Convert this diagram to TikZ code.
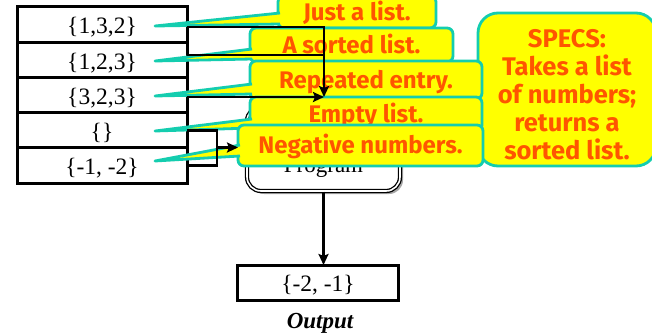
\documentclass[tikz,border=0pt]{standalone}
\usepackage{fontspec}
\setmainfont{Liberation Serif}
\newfontfamily\notefont{Fira Sans}
\usetikzlibrary{arrows.meta,calc,shadows}
\definecolor{noteyellow}{RGB}{255,255,0}
\definecolor{noteteal}{RGB}{20,205,175}
\definecolor{noteorange}{RGB}{255,85,0}
\begin{document}
\begin{tikzpicture}[x=1pt,y=-1pt,
  cell/.style={draw=black, line width=3pt, fill=white, outer sep=0pt, inner sep=0pt,
    minimum width=170pt, minimum height=35.5pt, text height=24pt, text depth=5.2pt,
    font=\fontsize{23.5}{26}\selectfont},
  prog/.style={draw=black, double=white, double distance=1.6pt, line width=1.3pt, fill=white,
    rounded corners=14pt, minimum width=153pt, minimum height=84pt,
    text height=50pt, text depth=4pt, font=\fontsize{23}{26}\selectfont,
    drop shadow={shadow xshift=3pt, shadow yshift=-3pt, fill=black, opacity=0.35}},
  link/.style={draw=black, line width=2.9pt},
  tip/.style={-{Stealth[length=11pt,width=10pt,inset=2pt]}},
  notebox/.style={fill=noteyellow, draw=noteteal, line width=2.8pt, rounded corners=6pt,
    outer sep=0pt, inner sep=0pt, text=noteorange, text height=16.5pt, text depth=0pt,
    font=\notefont\bfseries\fontsize{24}{28}\selectfont},
  tail/.style={fill=noteyellow, draw=noteteal, line width=2.8pt, line join=round},
  spectext/.style={text=noteorange, align=center, inner sep=0pt,
    font=\notefont\bfseries\fontsize{25.5}{28}\selectfont},
]
\useasboundingbox (0,0) rectangle (652,335);

% input lists, one per cell
\node[cell] (r1) at (102,24.5) {\{1,3,2\}};
\node[cell] (r2) at (102,60) {\{1,2,3\}};
\node[cell] (r3) at (102,95.5) {\{3,2,3\}};
\node[cell] (r4) at (102,130.5) {\{\}};
\node[cell] (r5) at (102,165.5) {\{-1, -2\}};

% the program and its output
\node[prog] (prog) at (323.5,149) {Program};
\node[cell, minimum width=161pt, minimum height=35pt] (out) at (318,282.5) {\{-2, -1\}};
\node[font=\bfseries\itshape\fontsize{23}{26}\selectfont] (lbl) at (320,323) {Output};
\draw[link,tip] (prog.south) -- (prog.south |- out.north);

% specification note
\node[notebox, rounded corners=20pt, minimum width=178pt, minimum height=153pt] (specs) at (567,89.5) {};
\node[spectext] (spectxt) at (567,95) {SPECS:\\Takes a list\\of numbers;\\returns a\\sorted list.};

% callouts describing each test case
\coordinate (t1) at (155,26);
\coordinate (t2) at (155,61);
\coordinate (t3) at (155,96);
\coordinate (t4) at (155,131);
\coordinate (t5) at (155,161);

\node[notebox, minimum width=158pt, minimum height=32pt] (c1) at (357,12) {Just a list.};
\path[tail] ($(c1.south west)+(2,-15)$) -- (t1) -- ($(c1.south west)+(2,-4)$);
\node[notebox, minimum width=203pt, minimum height=34pt] (c2) at (351.5,45) {A sorted list.};
\path[tail] ($(c2.south west)+(2,-13)$) -- (t2) -- ($(c2.south west)+(2,-3)$);
\node[notebox, minimum width=232pt, minimum height=38pt] (c3) at (366,80) {Repeated entry.};
\path[tail] ($(c3.south west)+(2,-15)$) -- (t3) -- ($(c3.south west)+(2,-5)$);
\node[notebox, minimum width=232pt, minimum height=34pt] (c4) at (366,114) {Empty list.};
\path[tail] ($(c4.south west)+(2,-12)$) -- (t4) -- ($(c4.south west)+(2,-3)$);
\node[notebox, minimum width=245pt, minimum height=41pt] (c5) at (360.5,145.5) {Negative numbers.};
\path[tail] ($(c5.south west)+(2,-21)$) -- (t5) -- ($(c5.south west)+(2,-10)$);

% connectors from the inputs into the program
\coordinate (m) at (324,97);
\draw[link,tip] ([yshift=-2.5pt]r1.east) -| (m);
\coordinate (j2) at ([yshift=5pt]r2.east);
\draw[link] (j2) -- (j2 -| m);
\draw[link,tip] (r3.east |- m) -- (m);
\coordinate (b) at (217,147.5);
\draw[link] (r4.east) -| (b) |- (r5.east);
\draw[link,tip] (b) -- (b -| c5.west);
\end{tikzpicture}
\end{document}
